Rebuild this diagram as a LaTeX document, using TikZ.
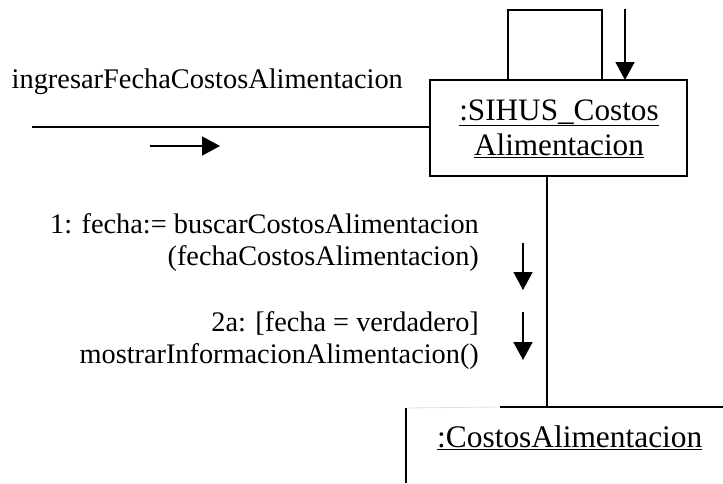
\documentclass[tikz,border=0pt]{standalone}
\usepackage{fontspec}
\setmainfont{Liberation Serif}
\usetikzlibrary{arrows.meta}
\begin{document}
\begin{tikzpicture}[x=1pt,y=-1pt,
  txt/.style={font=\fontsize{28.3}{32}\selectfont, inner sep=0pt},
  ln/.style={line width=1.5pt},
  arr/.style={ln, -{Triangle[length=18pt,width=19pt]}}]
\useasboundingbox (0,0) rectangle (723,483);
\node[ln, draw, minimum width=257pt, minimum height=96pt, inner sep=0pt] (main) at (558.5,128) {};
\node[inner sep=0pt, font=\fontsize{31.2}{35}\selectfont, align=center, anchor=base] (mainlab) at (559,155) {\underline{:SIHUS\_Costos}\\\underline{Alimentacion}};
% self loop
\coordinate (l1) at (508,80);
\coordinate (l2) at (602,80);
\draw[ln] (l1) -- (508,10) -- (602,10) -- (l2);
\coordinate (sa) at (625,9);
\coordinate (sb) at (625,80);
\draw[arr] (sa) -- (sb);
% incoming
\coordinate (in) at (32,127);
\draw[ln] (in) -- (main.west |- in);
\node[inner sep=0pt, font=\fontsize{28.4}{31}\selectfont, anchor=base west] (lab) at (11.5,88) {ingresarFechaCostosAlimentacion};
\coordinate (ia) at (150,146);
\coordinate (ib) at (220,146);
\draw[arr] (ia) -- (ib);
% link down
\coordinate (dl) at (547,407);
\draw[ln] (main.south -| dl) -- (dl);
% second object
\node[inner sep=0pt, anchor=base west, font=\fontsize{31.4}{33}\selectfont] (cost) at (437,447) {\underline{:CostosAlimentacion}};
\coordinate (c1) at (500,407);
\coordinate (c2) at (723,407);
\coordinate (c0) at (406,408);
\coordinate (c3) at (406,483);
\draw[ln] (c2) -- (c1);
\draw[gray!25, line width=0.8pt] (c0) -- (c1);
\draw[ln] (c0) -- (c3);
% messages
\node[txt, anchor=base east, align=right] (m1) at (479,265) {1: fecha:= buscarCostosAlimentacion\\(fechaCostosAlimentacion)};
\coordinate (a1) at (523,243);
\coordinate (b1) at (523,290);
\draw[arr] (a1) -- (b1);
\node[txt, anchor=base east, align=right] (m2) at (479,363) {2a: [fecha = verdadero]\\mostrarInformacionAlimentacion()};
\coordinate (a2) at (523,312);
\coordinate (b2) at (523,360);
\draw[arr] (a2) -- (b2);
\end{tikzpicture}
\end{document}
